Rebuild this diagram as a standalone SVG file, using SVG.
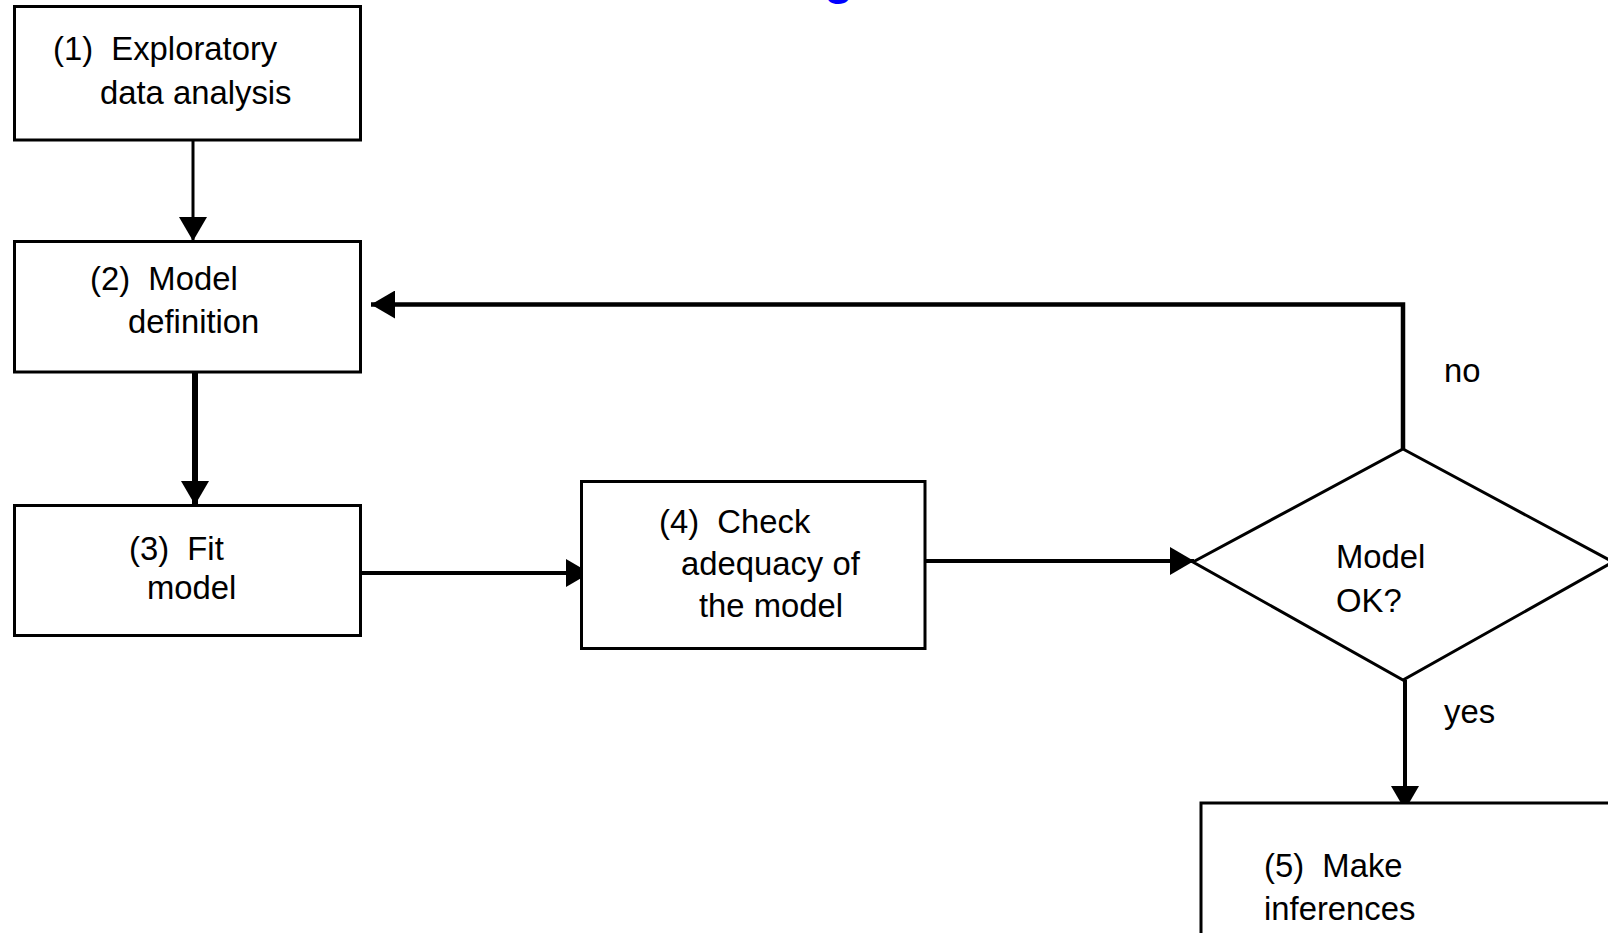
<svg xmlns="http://www.w3.org/2000/svg" width="1608" height="933" viewBox="0 0 1608 933">
<defs>
<style>
.box{fill:#fff;stroke:#000;stroke-width:3}
.lbl{font-family:"Liberation Sans",Arial,sans-serif;font-size:34px;fill:#000}
.con{fill:none;stroke:#000;stroke-linecap:butt}
</style>
<marker id="ah" markerUnits="userSpaceOnUse" markerWidth="26" markerHeight="28" viewBox="0 0 26 28" refX="24" refY="14" orient="auto">
<path d="M0,0 L24,14 L0,28 Z" fill="#000"/>
</marker>
</defs>
<rect width="1608" height="933" fill="#fff"/>
<text x="824" y="-6" style="font-family:'Liberation Sans',Arial,sans-serif;font-size:48px;font-weight:bold;fill:#0000ff">g</text>
<g id="connectors">
<line class="con" x1="193" y1="140" x2="193" y2="241" stroke-width="3" marker-end="url(#ah)"/>
<line class="con" x1="195" y1="372" x2="195" y2="505" stroke-width="6" marker-end="url(#ah)"/>
<line class="con" x1="357" y1="573" x2="590" y2="573" stroke-width="4" marker-end="url(#ah)"/>
<line class="con" x1="925" y1="561" x2="1194" y2="561" stroke-width="4" marker-end="url(#ah)"/>
<polyline class="con" points="1403,449 1403,304.5 371,304.5" stroke-width="4.5" marker-end="url(#ah)"/>
<line class="con" x1="1405" y1="680" x2="1405" y2="810" stroke-width="4" marker-end="url(#ah)"/>
</g>
<g id="n1">
<rect class="box" x="14.5" y="6.5" width="346" height="133.5"/>
<text class="lbl" xml:space="preserve" transform="translate(53 59.5) scale(0.965 1)">(1)  Exploratory</text>
<text class="lbl" transform="translate(100 103.5) scale(0.965 1)">data analysis</text>
</g>
<g id="n2">
<rect class="box" x="14.5" y="241.5" width="346" height="130.5"/>
<text class="lbl" xml:space="preserve" transform="translate(90 290) scale(0.965 1)">(2)  Model</text>
<text class="lbl" transform="translate(128 333) scale(0.965 1)">definition</text>
</g>
<g id="n3">
<rect class="box" x="14.5" y="505.5" width="346" height="130"/>
<text class="lbl" xml:space="preserve" transform="translate(129 560) scale(0.965 1)">(3)  Fit</text>
<text class="lbl" transform="translate(147 599) scale(0.965 1)">model</text>
</g>
<g id="n4">
<rect class="box" x="581.5" y="481.5" width="343.5" height="167"/>
<text class="lbl" xml:space="preserve" transform="translate(659 533) scale(0.965 1)">(4)  Check</text>
<text class="lbl" transform="translate(681 575) scale(0.965 1)">adequacy of</text>
<text class="lbl" transform="translate(699 617) scale(0.965 1)">the model</text>
</g>
<g id="decision">
<polygon points="1403,449 1613,562 1403,680 1193,562" fill="#fff" stroke="#000" stroke-width="3"/>
<text class="lbl" transform="translate(1336 568) scale(0.965 1)">Model</text>
<text class="lbl" transform="translate(1336 612) scale(0.965 1)">OK?</text>
</g>
<g id="edge-labels">
<text class="lbl" transform="translate(1444 382) scale(0.965 1)">no</text>
<text class="lbl" transform="translate(1444 723) scale(0.965 1)">yes</text>
</g>
<g id="n5">
<rect class="box" x="1201" y="803" width="500" height="200"/>
<text class="lbl" xml:space="preserve" transform="translate(1264 877) scale(0.965 1)">(5)  Make</text>
<text class="lbl" transform="translate(1264 920) scale(0.965 1)">inferences</text>
</g>
</svg>
